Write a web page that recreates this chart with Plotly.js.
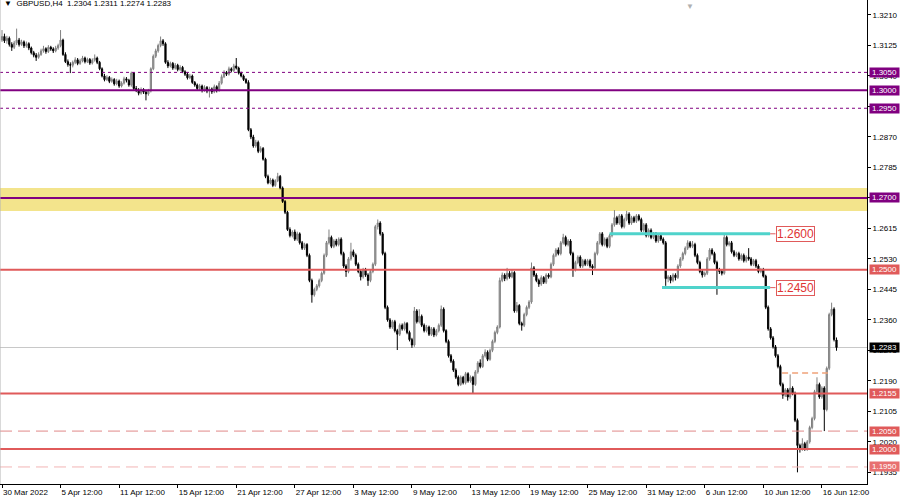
<!DOCTYPE html>
<html><head><meta charset="utf-8">
<script src="https://cdn.plot.ly/plotly-3.0.1.min.js"></script>
<style>html,body{margin:0;padding:0;background:#fff}#chart{width:900px;height:498px}</style>
</head><body><div id="chart"></div>
<script>
// ---- data (prices in pips, 1 pip = 0.0001) ----
const chartTitle = "\u25BC  GBPUSD,H4  1.2304 1.2311 1.2274 1.2283";
const openPips = [
13140,13150,13138,13145,13128,13120,13132,13140,13128,13135,
13124,13130,13118,13105,13098,13092,13100,13110,13116,13108,
13120,13115,13110,13118,13125,13140,13100,13080,13072,13070,
13078,13085,13075,13082,13090,13080,13086,13076,13084,13090,
13078,13060,13040,13030,13036,13025,13030,13018,13026,13012,
13020,13032,13028,13015,13048,13005,13000,12992,13002,12995,
12990,12998,13060,13095,13110,13125,13138,13130,13078,13068,
13075,13062,13070,13058,13064,13052,13045,13035,13040,13022,
13015,13005,13012,13000,13008,12998,13004,12996,13010,13000,
13020,13038,13050,13045,13060,13055,13068,13062,13048,13040,
13030,13022,12890,12870,12845,12855,12830,12838,12808,12760,
12742,12750,12735,12748,12760,12728,12690,12660,12612,12595,
12605,12585,12600,12575,12560,12570,12540,12470,12430,12445,
12455,12470,12490,12540,12575,12590,12565,12580,12570,12585,
12545,12510,12495,12530,12550,12540,12515,12495,12480,12500,
12485,12470,12495,12515,12620,12630,12600,12545,12395,12360,
12340,12355,12330,12320,12345,12335,12350,12325,12305,12290,
12385,12355,12370,12345,12330,12340,12320,12335,12318,12330,
12345,12390,12330,12300,12260,12245,12220,12200,12180,12200,
12185,12210,12190,12200,12180,12215,12240,12230,12260,12270,
12250,12275,12300,12325,12340,12470,12485,12475,12490,12480,
12492,12385,12400,12350,12345,12375,12395,12410,12505,12485,
12470,12460,12478,12465,12485,12480,12515,12540,12555,12545,
12575,12590,12570,12580,12545,12500,12520,12535,12510,12525,
12515,12525,12510,12505,12545,12575,12600,12570,12585,12565,
12595,12625,12645,12630,12650,12620,12640,12655,12630,12645,
12635,12650,12640,12610,12625,12595,12610,12590,12600,12580,
12595,12585,12575,12475,12480,12470,12485,12478,12510,12530,
12545,12560,12575,12565,12570,12540,12520,12495,12485,12490,
12530,12555,12545,12520,12500,12495,12490,12590,12570,12575,
12550,12540,12545,12530,12540,12525,12535,12530,12515,12525,
12510,12495,12500,12482,12395,12335,12310,12285,12260,12230,
12180,12150,12165,12145,12170,12155,12080,12010,12000,12015,
12000,12020,12060,12085,12160,12180,12145,12170,12110,12225,
12375,12390,12304];
const highPips = [
13168,13158,13152,13150,13134,13138,13172,13146,13141,13139,
13136,13134,13122,13110,13104,13106,13116,13124,13120,13126,
13124,13120,13124,13130,13168,13144,13106,13086,13078,13083,
13092,13090,13088,13096,13094,13091,13090,13089,13100,13094,
13082,13064,13046,13042,13040,13036,13034,13032,13030,13025,
13038,13037,13032,13052,13051,13012,13006,13008,13006,13000,
13004,13064,13100,13116,13130,13150,13143,13134,13084,13080,
13079,13076,13074,13070,13068,13056,13050,13046,13044,13026,
13019,13018,13016,13014,13012,13010,13008,13016,13014,13026,
13044,13056,13054,13066,13064,13074,13090,13066,13052,13044,
13034,13028,12895,12876,12862,12860,12844,12842,12812,12765,
12756,12754,12752,12770,12764,12732,12694,12664,12618,12610,
12612,12606,12604,12580,12575,12574,12545,12475,12450,12460,
12475,12495,12545,12580,12612,12595,12585,12586,12590,12590,
12550,12515,12535,12575,12556,12545,12520,12500,12505,12505,
12490,12500,12520,12625,12640,12635,12605,12550,12400,12365,
12360,12360,12335,12350,12350,12355,12354,12330,12310,12396,
12390,12390,12375,12350,12346,12344,12340,12340,12335,12350,
12400,12395,12334,12305,12265,12250,12225,12205,12205,12204,
12215,12214,12205,12204,12220,12245,12250,12265,12278,12275,
12280,12305,12330,12345,12478,12492,12490,12505,12496,12500,
12496,12410,12404,12355,12380,12400,12415,12520,12510,12490,
12475,12484,12482,12490,12490,12520,12545,12560,12562,12580,
12600,12595,12585,12585,12550,12525,12540,12540,12530,12530,
12530,12530,12515,12550,12580,12605,12605,12590,12590,12600,
12630,12666,12650,12655,12655,12645,12664,12660,12650,12650,
12655,12655,12645,12630,12630,12615,12615,12605,12605,12600,
12600,12590,12580,12485,12485,12490,12490,12515,12535,12550,
12565,12582,12580,12580,12575,12545,12525,12500,12495,12535,
12560,12560,12550,12525,12505,12500,12602,12595,12580,12580,
12555,12550,12550,12545,12545,12540,12560,12535,12530,12530,
12515,12505,12505,12486,12400,12340,12315,12290,12265,12235,
12185,12170,12170,12208,12175,12160,12085,12015,12030,12020,
12025,12065,12090,12165,12200,12185,12175,12175,12230,12380,
12408,12395,12311];
const lowPips = [
13135,13132,13130,13122,13110,13115,13126,13122,13124,13118,
13119,13112,13100,13092,13082,13088,13096,13105,13102,13104,
13110,13104,13106,13113,13120,13096,13076,13066,13048,13064,
13073,13070,13071,13078,13075,13076,13071,13072,13080,13073,
13056,13036,13025,13026,13020,13021,13013,13014,13007,13008,
13016,13022,13010,13010,13001,12995,12986,12988,12990,12972,
12985,12994,13056,13090,13105,13120,13124,13074,13062,13064,
13057,13058,13053,13054,13048,13040,13030,13031,13018,13010,
13000,13001,12994,12996,12992,12980,12990,12992,12994,12996,
13016,13034,13040,13041,13050,13051,13058,13044,13036,13026,
13018,12886,12864,12840,12840,12825,12826,12804,12755,12738,
12738,12730,12731,12744,12724,12686,12655,12608,12590,12590,
12580,12580,12570,12555,12555,12535,12465,12408,12425,12440,
12450,12465,12486,12535,12570,12560,12560,12565,12565,12540,
12505,12480,12490,12525,12535,12510,12490,12470,12475,12480,
12455,12465,12490,12510,12612,12595,12540,12390,12355,12335,
12335,12325,12276,12315,12330,12330,12320,12300,12282,12285,
12350,12350,12340,12325,12325,12315,12315,12312,12314,12325,
12340,12325,12295,12255,12240,12215,12195,12175,12176,12180,
12180,12185,12185,12155,12176,12210,12225,12226,12255,12245,
12246,12270,12295,12320,12336,12465,12468,12470,12475,12476,
12380,12380,12345,12330,12340,12370,12390,12405,12480,12465,
12452,12455,12460,12460,12475,12476,12510,12535,12540,12540,
12570,12565,12565,12540,12480,12495,12515,12505,12505,12510,
12510,12505,12485,12500,12540,12570,12565,12565,12560,12560,
12590,12620,12625,12625,12615,12615,12635,12625,12625,12630,
12630,12635,12605,12605,12590,12590,12585,12585,12575,12575,
12580,12570,12455,12465,12462,12465,12470,12474,12505,12525,
12540,12555,12560,12560,12535,12515,12490,12478,12480,12485,
12525,12540,12515,12430,12488,12484,12486,12565,12565,12545,
12535,12535,12525,12525,12520,12520,12525,12510,12510,12505,
12490,12490,12478,12390,12330,12305,12280,12255,12225,12175,
12140,12145,12135,12140,12150,12075,11935,11990,11995,11995,
11995,12015,12055,12080,12155,12140,12140,12050,12105,12220,
12370,12300,12274];
const closePips = [
13150,13138,13145,13128,13120,13132,13140,13128,13135,13124,
13130,13118,13105,13098,13092,13100,13110,13116,13108,13120,
13115,13110,13118,13125,13140,13100,13080,13072,13070,13078,
13085,13075,13082,13090,13080,13086,13076,13084,13090,13078,
13060,13040,13030,13036,13025,13030,13018,13026,13012,13020,
13032,13028,13015,13048,13005,13000,12992,13002,12995,12990,
12998,13060,13095,13110,13125,13138,13130,13078,13068,13075,
13062,13070,13058,13064,13052,13045,13035,13040,13022,13015,
13005,13012,13000,13008,12998,13004,12996,13010,13000,13020,
13038,13050,13045,13060,13055,13068,13062,13048,13040,13030,
13022,12890,12870,12845,12855,12830,12838,12808,12760,12742,
12750,12735,12748,12760,12728,12690,12660,12612,12595,12605,
12585,12600,12575,12560,12570,12540,12470,12430,12445,12455,
12470,12490,12540,12575,12590,12565,12580,12570,12585,12545,
12510,12495,12530,12550,12540,12515,12495,12480,12500,12485,
12470,12495,12515,12620,12630,12600,12545,12395,12360,12340,
12355,12330,12320,12345,12335,12350,12325,12305,12290,12385,
12355,12370,12345,12330,12340,12320,12335,12318,12330,12345,
12390,12330,12300,12260,12245,12220,12200,12180,12200,12185,
12210,12190,12200,12180,12215,12240,12230,12260,12270,12250,
12275,12300,12325,12340,12470,12485,12475,12490,12480,12492,
12385,12400,12350,12345,12375,12395,12410,12505,12485,12470,
12460,12478,12465,12485,12480,12515,12540,12555,12545,12575,
12590,12570,12580,12545,12500,12520,12535,12510,12525,12515,
12525,12510,12505,12545,12575,12600,12570,12585,12565,12595,
12625,12645,12630,12650,12620,12640,12655,12630,12645,12635,
12650,12640,12610,12625,12595,12610,12590,12600,12580,12595,
12585,12575,12475,12480,12470,12485,12478,12510,12530,12545,
12560,12575,12565,12570,12540,12520,12495,12485,12490,12530,
12555,12545,12520,12500,12495,12490,12590,12570,12575,12550,
12540,12545,12530,12540,12525,12535,12530,12515,12525,12510,
12495,12500,12482,12395,12335,12310,12285,12260,12230,12180,
12150,12165,12145,12170,12155,12080,12010,12000,12015,12000,
12020,12060,12085,12160,12180,12145,12170,12110,12225,12375,
12390,12305,12283];

const tickBars = [0,24,48,72,96,120,144,168,192,216,240,264,288,312,336];
const tickLabels = ["30 Mar 2022","5 Apr 12:00","11 Apr 12:00","15 Apr 12:00","21 Apr 12:00","27 Apr 12:00","3 May 12:00","9 May 12:00","13 May 12:00","19 May 12:00","25 May 12:00","31 May 12:00","6 Jun 12:00","10 Jun 12:00","16 Jun 12:00"];
const priceTicks = [1.3210,1.3125,1.3040,1.2955,1.2870,1.2785,1.2700,1.2615,1.2530,1.2445,1.2360,1.2275,1.2190,1.2105,1.2020,1.1935];

const purpleSolidLevels = [1.3000, 1.2700];
const purpleDottedLevels = [1.3050, 1.2950];
const redSolidLevels = [1.2500, 1.2155, 1.2000];
const redDashedLevels = [1.2050];
const pinkDashedLevels = [1.1950];
const zoneLevels = [1.26636, 1.27277];
const lastPrice = 1.2283;
const cyanLevels = [1.2600, 1.2450];
const cyanStartBars = [249, 270.5];
const cyanEndBar = 314.8;
const orangeLevel = 1.2212;
const orangeBars = [319.7, 338.5];

// ---- build ----
const toPrice = v => v / 10000;
const barIdx = openPips.map((_, i) => i);
const PURPLE = '#800080', RED = '#e05a5a';
const FONT = 'Liberation Sans, Arial, sans-serif';

const trace = {
  type: 'candlestick',
  x: barIdx,
  open: openPips.map(toPrice), high: highPips.map(toPrice),
  low: lowPips.map(toPrice), close: closePips.map(toPrice),
  increasing: {line: {color: '#808080', width: 1}, fillcolor: '#a8a8a8'},
  decreasing: {line: {color: '#000000', width: 1}, fillcolor: '#000000'},
  whiskerwidth: 0, hoverinfo: 'skip', showlegend: false
};

const shapes = [];
const hline = (y, color, width, dash, layer) => shapes.push({type: 'line', xref: 'paper', x0: 0, x1: 1, yref: 'y', y0: y, y1: y, layer: layer || 'above', line: {color, width, dash: dash || 'solid'}});
shapes.push({type: 'rect', xref: 'paper', x0: 0, x1: 1, yref: 'y', y0: zoneLevels[0], y1: zoneLevels[1], fillcolor: '#f3e48c', line: {width: 0}, layer: 'below'});
hline(lastPrice, '#c8c8c8', 1, 'solid', 'below');
purpleDottedLevels.forEach(p => hline(p, PURPLE, 1, 'dot'));
purpleSolidLevels.forEach(p => hline(p, PURPLE, 2));
redSolidLevels.forEach(p => hline(p, RED, 2));
redDashedLevels.forEach(p => hline(p, '#e08888', 1, '12px,6px'));
pinkDashedLevels.forEach(p => hline(p, '#f2b4b4', 1, '12px,6px'));
cyanLevels.forEach((p, k) => {
  shapes.push({type: 'line', xref: 'x', yref: 'y', x0: cyanStartBars[k], x1: cyanEndBar, y0: p, y1: p, layer: 'above', line: {color: '#4fd3cb', width: 3}});
  shapes.push({type: 'line', xref: 'x', yref: 'y', x0: cyanEndBar, x1: cyanEndBar + 2.2, y0: p, y1: p, layer: 'above', line: {color: RED, width: 1}});
});
shapes.push({type: 'line', xref: 'x', yref: 'y', x0: orangeBars[0], x1: orangeBars[1], y0: orangeLevel, y1: orangeLevel, layer: 'above', line: {color: '#f0a27a', width: 1.5, dash: '6px,4px'}});
shapes.push({type: 'line', xref: 'paper', x0: 0, x1: 0, yref: 'paper', y0: 0, y1: 1, line: {color: '#b4b4b4', width: 1}});

const annotations = [];
const sideLabel = (p, bg) => annotations.push({xref: 'paper', x: 1, xanchor: 'left', xshift: 2, yref: 'y', y: p, yanchor: 'middle',
  text: p.toFixed(4), showarrow: false, bgcolor: bg, width: 29, height: 9, borderpad: 0, align: 'center',
  font: {family: FONT, size: 8, color: '#ffffff'}});
purpleDottedLevels.concat(purpleSolidLevels).forEach(p => sideLabel(p, PURPLE));
redSolidLevels.concat(redDashedLevels).forEach(p => sideLabel(p, RED));
pinkDashedLevels.forEach(p => sideLabel(p, '#e87070'));
sideLabel(lastPrice, '#000000');
cyanLevels.forEach(p => annotations.push({xref: 'x', x: cyanEndBar + 2.2, xanchor: 'left', yref: 'y', y: p, yanchor: 'middle',
  text: p.toFixed(4), showarrow: false, bgcolor: '#ffffff', bordercolor: RED, borderwidth: 1, borderpad: 0,
  font: {family: FONT, size: 12, color: '#e03434'}}));
annotations.push({xref: 'x', x: 282, yref: 'paper', y: 1, yanchor: 'top', text: '\u25BC', showarrow: false,
  font: {family: FONT, size: 8, color: '#b0b0b0'}});

const layout = {
  width: 900, height: 498,
  margin: {l: 0, r: 33, t: 0, b: 14},
  paper_bgcolor: '#ffffff', plot_bgcolor: '#ffffff',
  title: {text: chartTitle, x: 0.0045, xanchor: 'left', xref: 'container', y: 0.999, yanchor: 'top', yref: 'container',
    font: {family: FONT, size: 8, color: '#000000'}},
  xaxis: {range: [-0.82, 354.5], tickmode: 'array', tickvals: tickBars, ticktext: tickLabels,
    ticks: 'outside', ticklen: 3, tickcolor: '#000', showline: true, linecolor: '#000', linewidth: 1,
    showgrid: false, zeroline: false, rangeslider: {visible: false}, ticklabelposition: 'outside right',
    tickfont: {family: FONT, size: 8, color: '#000'}, fixedrange: true},
  yaxis: {side: 'right', range: [1.19025, 1.32518], tickmode: 'array', tickvals: priceTicks,
    ticktext: priceTicks.map(v => v.toFixed(4)), ticks: 'outside', ticklen: 3, tickcolor: '#000',
    showline: true, linecolor: '#000', linewidth: 1, showgrid: false, zeroline: false,
    tickfont: {family: FONT, size: 8, color: '#000'}, fixedrange: true},
  shapes, annotations, showlegend: false, dragmode: false
};

Plotly.newPlot('chart', [trace], layout, {displayModeBar: false, staticPlot: true});
</script></body></html>
